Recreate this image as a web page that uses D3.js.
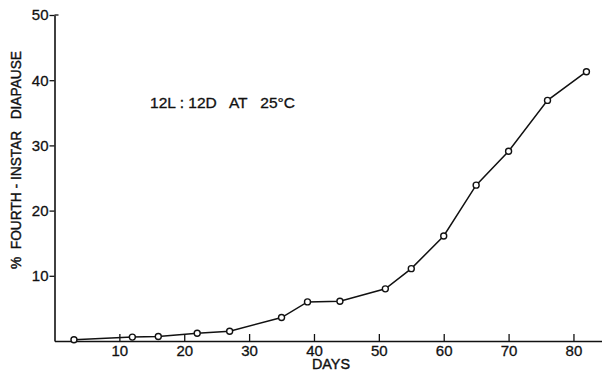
<!DOCTYPE html>
<html>
<head>
<meta charset="utf-8">
<script src="https://cdn.jsdelivr.net/npm/d3@7"></script>
<style>
  body { margin: 0; background: white; }
  svg text { font-family: "Liberation Sans", Arial, sans-serif; fill: #111; white-space: pre; }
</style>
</head>
<body>
<div id="chart"></div>
<script>
// diapause in fourth instar over days, 12L:12D at 25C
const days = [3, 12, 16, 22, 27, 35, 39, 44, 51, 55, 60, 65, 70, 76, 82]
const percent = [0.2, 0.6, 0.7, 1.2, 1.5, 3.6, 6.0, 6.1, 8.0, 11.1, 16.1, 23.9, 29.1, 36.9, 41.3]
const xTicks = [10, 20, 30, 40, 50, 60, 70, 80]
const yTicks = [10, 20, 30, 40, 50]

const width = 602
const height = 371
const ink = "#111"

const data = days.map((d, i) => ({ day: d, pct: percent[i] }))

const svg = d3.select("#chart")
    .append("svg")
    .attr("width", width)
    .attr("height", height)

const x = d3.scaleLinear()
    .domain([0, 84.4])
    .range([54.5, 602])

const y = d3.scaleLinear()
    .domain([0, 50])
    .range([341, 15])

const xAxis = d3.axisBottom(x)
    .tickValues(xTicks)
    .tickSize(-7)
    .tickSizeOuter(0)
    .tickPadding(4)
    .tickFormat(d3.format("d"))

const yAxis = d3.axisLeft(y)
    .tickValues(yTicks)
    .tickSize(5)
    .tickSizeOuter(0)
    .tickPadding(1)

const gx = svg.append("g")
    .attr("transform", `translate(0,${y(0)})`)
    .call(xAxis)

const gy = svg.append("g")
    .attr("transform", `translate(${x(0)},0)`)
    .call(yAxis)

for (const g of [gx, gy]) {
    g.select(".domain").attr("stroke", ink).attr("stroke-width", 1.6)
    g.selectAll(".tick line").attr("stroke", ink).attr("stroke-width", 1.3)
    g.selectAll(".tick text")
        .attr("font-size", 15)
        .attr("font-family", "Liberation Sans, Arial, sans-serif")
        .attr("fill", ink)
        .attr("stroke", ink)
        .attr("stroke-width", 0.3)
}

// little cap at the top of the y axis
svg.append("line")
    .attr("x1", x(0)).attr("x2", x(0) + 4)
    .attr("y1", y(50)).attr("y2", y(50))
    .attr("stroke", ink).attr("stroke-width", 1.3)

const line = d3.line()
    .x(d => x(d.day))
    .y(d => y(d.pct))

svg.append("path")
    .datum(data)
    .attr("d", line)
    .attr("fill", "none")
    .attr("stroke", ink)
    .attr("stroke-width", 1.5)

svg.selectAll(".pt")
    .data(data)
    .enter()
    .append("circle")
    .attr("class", "pt")
    .attr("cx", d => x(d.day))
    .attr("cy", d => y(d.pct))
    .attr("r", 3)
    .attr("fill", "white")
    .attr("stroke", ink)
    .attr("stroke-width", 1.4)

svg.append("text")
    .attr("x", 331)
    .attr("y", 369)
    .attr("text-anchor", "middle")
    .attr("font-size", 14)
    .attr("stroke", ink)
    .attr("stroke-width", 0.4)
    .attr("textLength", 38)
    .attr("lengthAdjust", "spacingAndGlyphs")
    .text("DAYS")

svg.append("text")
    .attr("transform", "translate(21,160) rotate(-90)")
    .attr("text-anchor", "middle")
    .attr("font-size", 14)
    .attr("stroke", ink)
    .attr("stroke-width", 0.4)
    .attr("textLength", 218)
    .attr("lengthAdjust", "spacingAndGlyphs")
    .text("%  FOURTH - INSTAR   DIAPAUSE")

svg.append("text")
    .attr("x", 150)
    .attr("y", 108)
    .attr("font-size", 14)
    .attr("stroke", ink)
    .attr("stroke-width", 0.3)
    .attr("textLength", 145)
    .attr("lengthAdjust", "spacingAndGlyphs")
    .text("12L : 12D   AT   25°C")
</script>
</body>
</html>
